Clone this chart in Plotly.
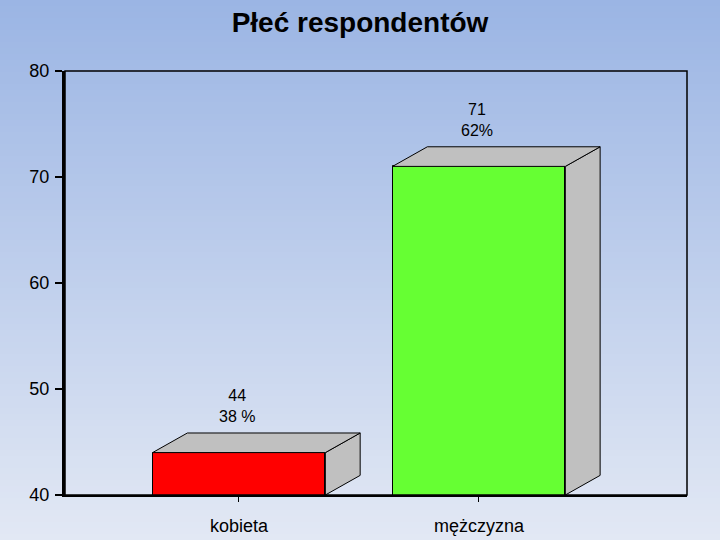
import plotly.graph_objects as go

categories = ["kobieta", "mężczyzna"]
counts = [44, 71]
percent_labels = ["38 %", "62%"]
bar_colors = ["#ff0000", "#66ff33"]

title_text = "Płeć respondentów"
y_min, y_max = 40, 80

# 3D geometry (styling)
bar_w = 0.72
dx = 0.145
dy = 1.85
side_color = "#c0c0c0"

fig = go.Figure()

xs = list(range(len(categories)))

# front faces
fig.add_trace(go.Bar(
    x=xs, y=counts, width=[bar_w] * len(xs),
    marker=dict(color=bar_colors, line=dict(color="black", width=1)),
    showlegend=False, hoverinfo="skip",
))

# side and top faces computed from the data values
for xi, v in zip(xs, counts):
    x0 = xi - bar_w / 2
    x1 = xi + bar_w / 2
    fig.add_trace(go.Scatter(
        x=[x1, x1 + dx, x1 + dx, x1, x1],
        y=[y_min, y_min + dy, v + dy, v, y_min],
        mode="lines", fill="toself", fillcolor=side_color,
        line=dict(color="black", width=1), showlegend=False, hoverinfo="skip",
    ))
    fig.add_trace(go.Scatter(
        x=[x0, x0 + dx, x1 + dx, x1, x0],
        y=[v, v + dy, v + dy, v, v],
        mode="lines", fill="toself", fillcolor=side_color,
        line=dict(color="black", width=1), showlegend=False, hoverinfo="skip",
    ))

# data labels
for xi, v, p in zip(xs, counts, percent_labels):
    fig.add_annotation(
        x=xi - 0.01, y=v + dy, text=f"{v}<br>{p}", showarrow=False,
        yanchor="bottom", yshift=6,
        font=dict(family="Liberation Sans, Arial", size=16, color="black"),
    )

# background gradient (stripes)
top = (155, 181, 228)
bot = (226, 232, 244)
n = 90
ph = 424.0
shapes = []
for i in range(n):
    t = i / (n - 1)
    c = tuple(round(top[k] + (bot[k] - top[k]) * t) for k in range(3))
    y1 = 1 + 71 / ph - i * (540 / ph) / n
    y0 = y1 - (540 / ph) / n - 0.003
    if i == 0:
        y1 += 0.1
    if i == n - 1:
        y0 -= 0.1
    shapes.append(dict(type="rect", xref="paper", yref="paper",
                       x0=-0.2, x1=1.2, y0=y0, y1=y1,
                       fillcolor=f"rgb{c}", line=dict(width=0), layer="below"))
# plot frame
shapes.append(dict(type="rect", xref="x domain", yref="y domain",
                   x0=0, x1=1, y0=0, y1=1, line=dict(color="black", width=1.5),
                   layer="above"))

fig.update_layout(
    width=720, height=540,
    margin=dict(l=65, r=33, t=71, b=45, autoexpand=False),
    paper_bgcolor="rgb(190,205,236)",
    plot_bgcolor="rgba(0,0,0,0)",
    shapes=shapes,
    title=dict(text=f"<b>{title_text}</b>", x=0.5, xanchor="center",
               y=1 - 22 / 540, yanchor="middle",
               font=dict(family="Liberation Sans, Arial", size=28, color="black")),
    font=dict(family="Liberation Sans, Arial", size=17, color="black"),
    xaxis=dict(
        range=[-0.725, 1.867], tickmode="array", tickvals=xs, ticktext=categories,
        showgrid=False, zeroline=False, showline=True, linecolor="black", linewidth=2,
        ticks="outside", ticklen=5, tickcolor="black", tickwidth=1,
        tickfont=dict(size=18), ticklabelstandoff=8, automargin=False,
    ),
    yaxis=dict(
        range=[y_min, y_max], dtick=10, showgrid=False, zeroline=False,
        showline=True, linecolor="black", linewidth=3,
        ticks="outside", ticklen=7, tickcolor="black", tickwidth=1.5,
        tickfont=dict(size=18), ticklabelstandoff=2, automargin=False,
    ),
    bargap=0,
)

fig.write_html("out.html", config={"displayModeBar": False},
               post_script="document.body.style.margin='0';document.body.style.overflow='hidden';")
